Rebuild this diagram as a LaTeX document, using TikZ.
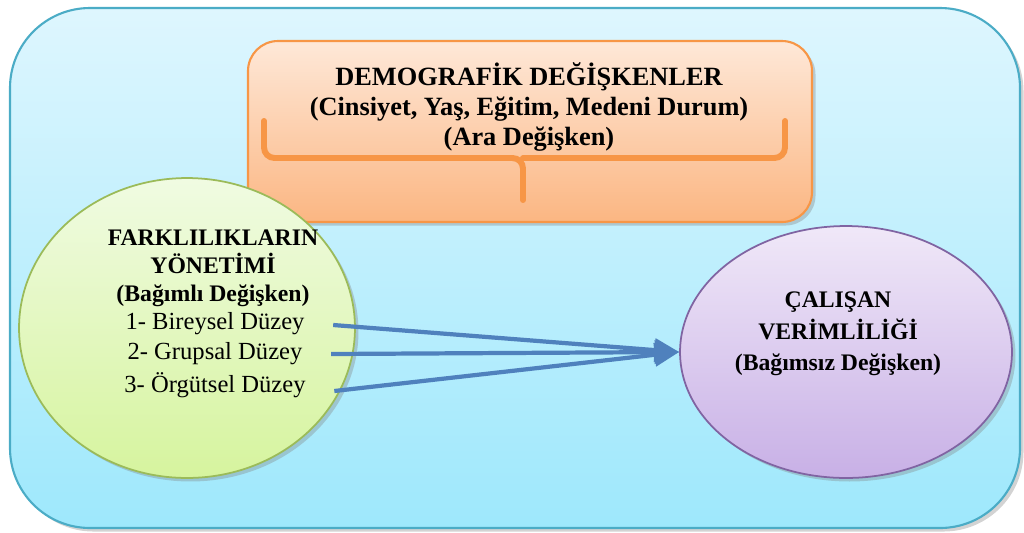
\documentclass[tikz,border=0pt]{standalone}
\usepackage{fontspec}
\setmainfont{Liberation Serif}
\newfontfamily\timesfont{Liberation Serif}
\usepackage{tikz}
\usetikzlibrary{shapes.geometric, arrows.meta, positioning, shadows}
\definecolor{frameline}{RGB}{75,172,198}
\definecolor{frametop}{RGB}{222,246,254}
\definecolor{framebot}{RGB}{158,232,252}
\definecolor{demline}{RGB}{247,150,70}
\definecolor{demtop}{RGB}{254,232,216}
\definecolor{dembot}{RGB}{251,182,130}
\definecolor{grnline}{RGB}{155,187,89}
\definecolor{grntop}{RGB}{240,251,226}
\definecolor{grnbot}{RGB}{214,244,158}
\definecolor{purline}{RGB}{128,100,162}
\definecolor{purtop}{RGB}{240,232,248}
\definecolor{purbot}{RGB}{200,176,230}
\definecolor{arrowblue}{RGB}{79,129,189}
\tikzset{
  frame/.style={draw=frameline, line width=1.2pt, top color=frametop,
    bottom color=framebot, rounded corners=1.6cm,
    drop shadow={shadow xshift=2pt, shadow yshift=-2pt, opacity=0.35}},
  dembox/.style={draw=demline, line width=1.2pt, top color=demtop,
    bottom color=dembot, rounded corners=0.6cm,
    drop shadow={shadow xshift=2pt, shadow yshift=-2pt, opacity=0.35}},
  varellipse/.style={ellipse, line width=1pt, inner sep=0pt,
    drop shadow={shadow xshift=2pt, shadow yshift=-2pt, opacity=0.35}},
  title/.style={font=\timesfont\fontsize{15}{17}\selectfont\bfseries, align=center},
  smalltitle/.style={font=\timesfont\fontsize{13.5}{16}\selectfont\bfseries, align=center},
  item/.style={font=\timesfont\fontsize{14}{17}\selectfont},
  brace/.style={draw=demline, line width=3.4pt, line cap=round, rounded corners=6pt},
  arrow/.style={-{Triangle[length=14pt, width=13pt]}, line width=2.4pt, color=arrowblue}
}

\begin{document}
\begin{tikzpicture}[x=0.02cm, y=-0.02cm]
  \useasboundingbox (0,0) rectangle (1024,532);

  % Outer frame
  \path[frame] (10,8) rectangle (1020,528);

  % Demographic variables box
  \path[dembox] (248,41) rectangle (812,222);
  \node[title] (dem) at (529,107)
    {DEMOGRAFİK DEĞİŞKENLER\\(Cinsiyet, Yaş, Eğitim, Medeni Durum)\\(Ara Değişken)};
  \draw[brace] (264,121) -- (264,158) -- (523,158) -- (523,200);
  \draw[brace] (785,121) -- (785,158) -- (523,158);

  % Left ellipse
  \node[varellipse, draw=grnline, top color=grntop, bottom color=grnbot,
    minimum width=6.72cm, minimum height=6cm] (fy) at (187,328) {};
  \node[smalltitle] (fyt) at (213,268) {FARKLILIKLARIN\\YÖNETİMİ\\(Bağımlı Değişken)};
  \node[item] (d1) at (215,324) {1- Bireysel Düzey};
  \node[item] (d2) at (215,354) {2- Grupsal Düzey};
  \node[item] (d3) at (215,385) {3- Örgütsel Düzey};

  % Right ellipse
  \node[varellipse, draw=purline, top color=purtop, bottom color=purbot,
    minimum width=6.64cm, minimum height=5.04cm] (cv) at (846,352) {};
  \node[smalltitle, font=\timesfont\fontsize{13.5}{18}\selectfont\bfseries] (cvt) at (838,334)
    {ÇALIŞAN\\VERİMLİLİĞİ\\(Bağımsız Değişken)};

  % Arrows
  \draw[arrow] ([xshift=0.45cm,yshift=-0.02cm]d1.east) -- (cv.west);
  \draw[arrow] ([xshift=0.45cm]d2.east) -- (cv.west);
  \draw[arrow] ([xshift=0.45cm,yshift=-0.12cm]d3.east) -- (cv.west);
\end{tikzpicture}
\end{document}
